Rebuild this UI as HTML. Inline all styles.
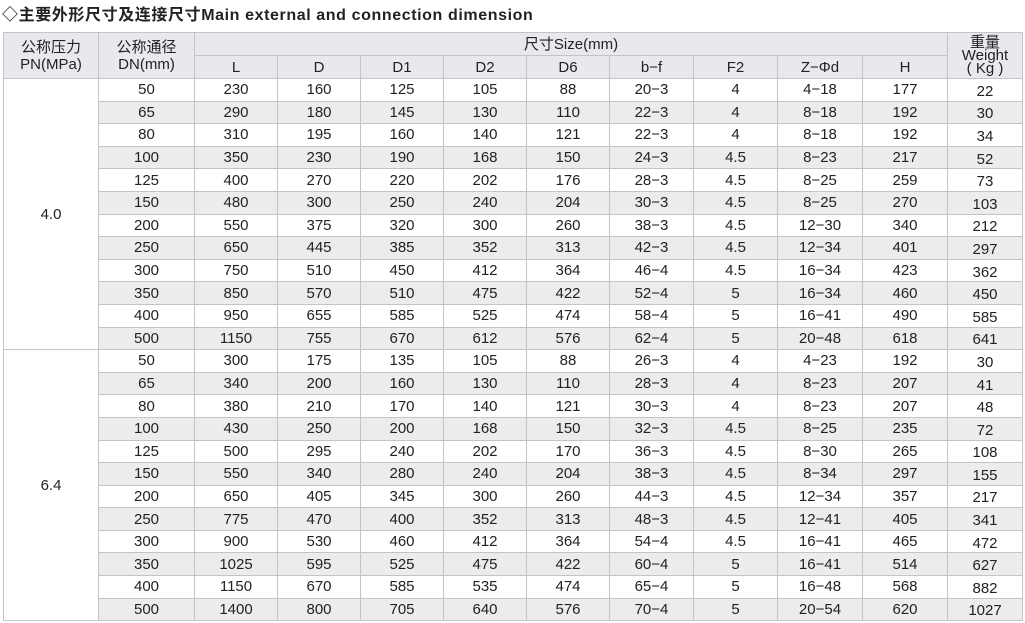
<!DOCTYPE html>
<html><head><meta charset="utf-8"><style>
body{margin:0;width:1025px;height:623px;background:#fff;overflow:hidden;font-family:"Liberation Sans","Noto Sans CJK SC",sans-serif;color:#222}
.t{position:absolute;left:2px;top:1px;font-size:16px;font-weight:bold;white-space:nowrap;letter-spacing:0.6px}
table{position:absolute;left:3px;top:32px;border-collapse:collapse;table-layout:fixed}
td{border:1px solid #c4c4c4;text-align:center;font-size:15px;padding:0;height:21.6px;line-height:15px}
.h{background:#e8e8ef}
tr.g td.v{background:#ececec}
td.p{background:#fff}
td.w{padding-top:3px;height:18.6px}
</style></head><body>
<div class="t">◇主要外形尺寸及连接尺寸Main external and connection dimension</div>
<table>
<colgroup><col style="width:95px"><col style="width:96px"><col style="width:83px"><col style="width:83px"><col style="width:83px"><col style="width:83px"><col style="width:83px"><col style="width:84px"><col style="width:84px"><col style="width:85px"><col style="width:85px"><col style="width:75px"></colgroup>
<tr><td class="h" rowspan="2" style="height:45px;line-height:17px">公称压力<br>PN(MPa)</td><td class="h" rowspan="2" style="line-height:17px">公称通径<br>DN(mm)</td><td class="h" colspan="9" style="height:22px">尺寸Size(mm)</td><td class="h" rowspan="2" style="line-height:13px">重量<br>Weight<br>( Kg )</td></tr>
<tr><td class="h">L</td><td class="h">D</td><td class="h">D1</td><td class="h">D2</td><td class="h">D6</td><td class="h">b−f</td><td class="h">F2</td><td class="h">Z−Φd</td><td class="h">H</td></tr>
<tbody id="b"></tbody>
</table>
<script>
var d1=[["50",230,160,125,105,88,"20−3",4,"4−18",177,22],["65",290,180,145,130,110,"22−3",4,"8−18",192,30],["80",310,195,160,140,121,"22−3",4,"8−18",192,34],["100",350,230,190,168,150,"24−3",4.5,"8−23",217,52],["125",400,270,220,202,176,"28−3",4.5,"8−25",259,73],["150",480,300,250,240,204,"30−3",4.5,"8−25",270,103],["200",550,375,320,300,260,"38−3",4.5,"12−30",340,212],["250",650,445,385,352,313,"42−3",4.5,"12−34",401,297],["300",750,510,450,412,364,"46−4",4.5,"16−34",423,362],["350",850,570,510,475,422,"52−4",5,"16−34",460,450],["400",950,655,585,525,474,"58−4",5,"16−41",490,585],["500",1150,755,670,612,576,"62−4",5,"20−48",618,641]];
var d2=[["50",300,175,135,105,88,"26−3",4,"4−23",192,30],["65",340,200,160,130,110,"28−3",4,"8−23",207,41],["80",380,210,170,140,121,"30−3",4,"8−23",207,48],["100",430,250,200,168,150,"32−3",4.5,"8−25",235,72],["125",500,295,240,202,170,"36−3",4.5,"8−30",265,108],["150",550,340,280,240,204,"38−3",4.5,"8−34",297,155],["200",650,405,345,300,260,"44−3",4.5,"12−34",357,217],["250",775,470,400,352,313,"48−3",4.5,"12−41",405,341],["300",900,530,460,412,364,"54−4",4.5,"16−41",465,472],["350",1025,595,525,475,422,"60−4",5,"16−41",514,627],["400",1150,670,585,535,474,"65−4",5,"16−48",568,882],["500",1400,800,705,640,576,"70−4",5,"20−54",620,1027]];
var h="";
[[d1,"4.0"],[d2,"6.4"]].forEach(function(g){g[0].forEach(function(r,i){
h+='<tr class="'+(i%2?'g':'')+'">';
if(i==0)h+='<td class="p" rowspan="12">'+g[1]+'</td>';
r.forEach(function(c,j){h+='<td class="v'+(j==10?' w':'')+'">'+c+'</td>';});
h+='</tr>';});});
document.getElementById('b').innerHTML=h;
</script>
</body></html>
